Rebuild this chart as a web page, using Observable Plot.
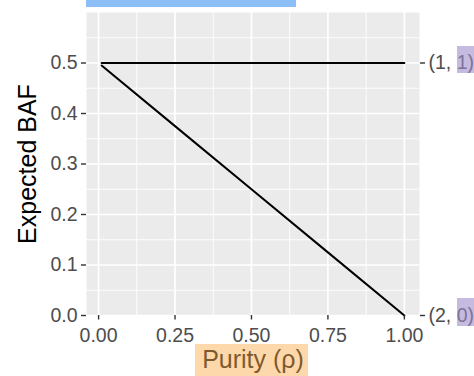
<!DOCTYPE html>
<html>
<head>
<meta charset="utf-8">
<script src="https://cdn.jsdelivr.net/npm/d3@7"></script>
<script src="https://cdn.jsdelivr.net/npm/@observablehq/plot@0.6"></script>
<style>
  html, body { margin: 0; padding: 0; background: #ffffff; }
  #chart { position: relative; width: 474px; height: 376px; overflow: hidden; }
  .hl { position: absolute; pointer-events: none; }
</style>
</head>
<body>
<div id="chart"></div>
<script>
// Expected B-allele frequency versus tumour purity for two allelic states
const purity = [0.01, 0.25, 0.5, 0.75, 1.0];
const baf_1_1 = [0.5, 0.5, 0.5, 0.5, 0.5];        // state (1, 1)
const baf_2_0 = [0.495, 0.375, 0.25, 0.125, 0.0]; // state (2, 0)

const xTicks = [0, 0.25, 0.5, 0.75, 1];
const xMinor = [0.125, 0.375, 0.625, 0.875];
const yTicks = [0, 0.1, 0.2, 0.3, 0.4, 0.5];
const yMinor = [0.05, 0.15, 0.25, 0.35, 0.45, 0.55];
const stateTicks = [0.5, 0];
const stateLabels = ["(1, 1)", "(2, 0)"];

const rows11 = purity.map((p, i) => ({purity: p, baf: baf_1_1[i]}));
const rows20 = purity.map((p, i) => ({purity: p, baf: baf_2_0[i]}));

const font = "'Liberation Sans', Arial, Helvetica, sans-serif";
const axisGrey = "#4d4d4d";
const tickGrey = "#333333";

const chart = Plot.plot({
  width: 474,
  height: 376,
  marginLeft: 86,
  marginRight: 55,
  marginTop: 12,
  marginBottom: 61,
  style: {fontFamily: font, background: "#ffffff", overflow: "visible"},
  x: {domain: [-0.0395, 1.0495]},
  y: {domain: [0, 0.6]},
  marks: [
    Plot.frame({fill: "#ebebeb", stroke: null}),
    Plot.gridX(xMinor, {stroke: "#ffffff", strokeOpacity: 1, strokeWidth: 0.9}),
    Plot.gridY(yMinor, {stroke: "#ffffff", strokeOpacity: 1, strokeWidth: 0.9}),
    Plot.gridX(xTicks, {stroke: "#ffffff", strokeOpacity: 1, strokeWidth: 1.7}),
    Plot.gridY(yTicks, {stroke: "#ffffff", strokeOpacity: 1, strokeWidth: 1.7}),
    Plot.line(rows11, {x: "purity", y: "baf", stroke: "#000000", strokeWidth: 2}),
    Plot.line(rows20, {x: "purity", y: "baf", stroke: "#000000", strokeWidth: 2}),
    Plot.axisX(xTicks, {
      tickFormat: d3.format(".2f"), tickSize: 4.5, tickPadding: 8,
      stroke: tickGrey, strokeWidth: 1.4, fill: axisGrey, fontSize: 19.5,
      label: null
    }),
    Plot.axisX({
      ticks: [], label: "Purity (ρ)", labelAnchor: "center", labelArrow: "none",
      labelOffset: 52, fontSize: 25, fill: "#000000"
    }),
    Plot.axisY(yTicks, {
      anchor: "left", tickFormat: d3.format(".1f"), tickSize: 5, tickPadding: 4,
      stroke: tickGrey, strokeWidth: 1.4, fill: axisGrey, fontSize: 19.5,
      label: null
    }),
    Plot.axisY({
      anchor: "left", ticks: [], label: "Expected BAF", labelAnchor: "center", labelArrow: "none",
      labelOffset: 68, fontSize: 25, fill: "#000000"
    }),
    Plot.axisY(stateTicks, {
      anchor: "right", tickFormat: (d, i) => stateLabels[i], tickSize: 5, tickPadding: 4,
      stroke: tickGrey, strokeWidth: 1.4, fill: axisGrey, fontSize: 19.5,
      label: null
    })
  ]
});

const host = document.getElementById("chart");
host.appendChild(chart);

// highlight bands laid over the figure
const bands = [
  {left: 86, top: 0, width: 210, height: 7, bg: "#8cbff7"},
  {left: 195, top: 344, width: 113, height: 32, bg: "rgba(250,178,88,0.5)"},
  {left: 457, top: 46, width: 17, height: 27, bg: "rgba(158,140,202,0.6)"},
  {left: 457, top: 298, width: 17, height: 28, bg: "rgba(158,140,202,0.6)"}
];
for (const b of bands) {
  const el = document.createElement("div");
  el.className = "hl";
  el.style.left = b.left + "px";
  el.style.top = b.top + "px";
  el.style.width = b.width + "px";
  el.style.height = b.height + "px";
  el.style.background = b.bg;
  host.appendChild(el);
}
</script>
</body>
</html>
